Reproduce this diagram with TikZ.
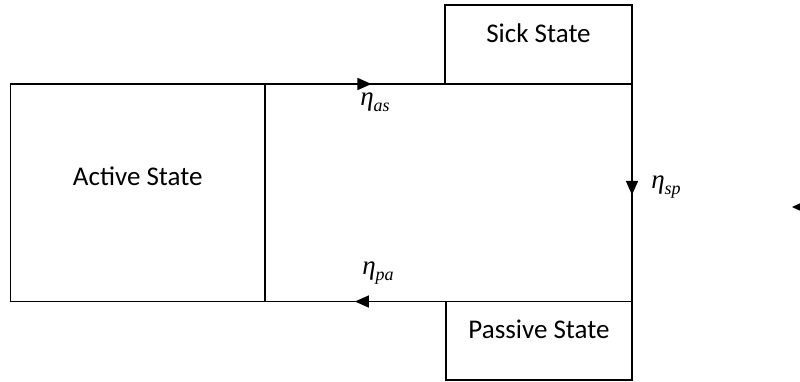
\documentclass[tikz,border=0pt]{standalone}
\usepackage{fontspec}
\setmainfont{Carlito}
\newfontfamily\ratefont{Liberation Serif}
\usetikzlibrary{positioning,arrows.meta,decorations.markings}

\newcommand{\rateof}[1]{{\ratefont\itshape η}\raisebox{-6pt}{\ratefont\fontsize{18}{20}\selectfont\itshape #1}}

\tikzset{
  statebox/.style={rectangle, draw, line width=1.6pt, inner sep=0pt, outer sep=0pt},
  statetext/.style={font=\fontsize{27}{32}\selectfont, anchor=base},
  flow/.style={line width=1.6pt, postaction={decorate},
    decoration={markings, mark=at position #1 with {\arrow{Triangle[length=14pt,width=12pt]}}}},
  rate/.style={font=\fontsize{27}{30}\selectfont, inner sep=0pt},
}

\begin{document}
\begin{tikzpicture}[x=1pt, y=-1pt]
  \useasboundingbox (0,0) rectangle (800,381);

  % states
  \node[statebox, minimum width=254.5pt, minimum height=217.5pt,
    label={[statetext, yshift=-101pt]north:Active State}] (active) at (137.75,192.75) {};
  \node[statebox, minimum width=187pt, minimum height=79pt,
    label={[statetext, yshift=-37pt]north:Sick State}] (sick) at (538.5,44.5) {};
  \node[statebox, minimum width=186pt, minimum height=78.5pt,
    label={[statetext, yshift=-36.5pt]north:Passive State}] (passive) at (539,340.75) {};

  % transitions
  \draw[flow=0.29] (active.north east) -- (sick.south east);
  \draw[flow=0.51] (sick.south east) -- (passive.north east);
  \draw[flow=0.755] (passive.north east) -- (active.south east);

  % rates
  \node[rate] (eas) at (375,102) {\rateof{as}};
  \node[rate] (esp) at (666,187) {\rateof{sp}};
  \node[rate] (epa) at (378,273) {\rateof{pa}};

  % stray tip at the right edge
  \coordinate (stub) at (792,207);
  \fill (stub) -- ++(14,-6.5) -- ++(0,13) -- cycle;
\end{tikzpicture}
\end{document}
